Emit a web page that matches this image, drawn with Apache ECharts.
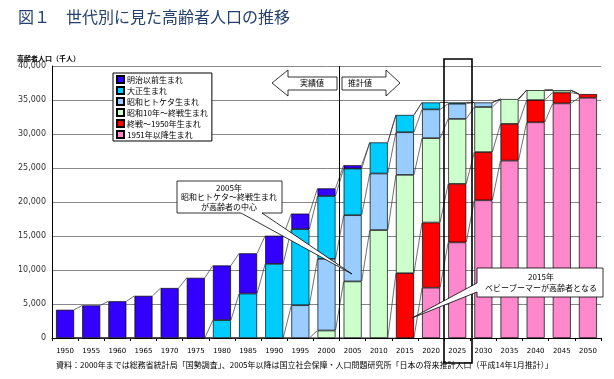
<!DOCTYPE html>
<html><head><meta charset="utf-8">
<script src="https://cdn.jsdelivr.net/npm/echarts@6/dist/echarts.min.js"></script>
<style>html,body{margin:0;padding:0;background:#fff}#c{width:614px;height:379px}</style>
</head><body><div id="c"></div>
<script>
var years = ['1950','1955','1960','1965','1970','1975','1980','1985','1990','1995','2000','2005','2010','2015','2020','2025','2030','2035','2040','2045','2050'];
var names = ['明治以前生まれ','大正生まれ','昭和ヒトケタ生まれ','昭和10年～終戦生まれ','終戦～1950年生まれ','1951年以降生まれ'];
var meiji    = [4150,4790,5400,6200,7350,8850,8030,5920,4140,2280,1120,480,0,0,0,0,0,0,0,0,0];
var taisho   = [0,0,0,0,0,0,2630,6530,10900,11190,9240,6860,4570,2540,1020,190,0,0,0,0,0];
var hitoketa = [0,0,0,0,0,0,0,0,0,4820,10540,9740,8320,6270,4230,2230,670,0,0,0,0];
var showa10  = [0,0,0,0,0,0,0,0,0,0,1100,8320,15870,14460,12410,9550,6630,3650,1460,350,0];
var sengo    = [0,0,0,0,0,0,0,0,0,0,0,0,0,9530,9580,8610,7090,5400,3270,1600,540];
var after51  = [0,0,0,0,0,0,0,0,0,0,0,0,0,0,7400,14060,20250,26090,31720,34500,35330];
var yTicks = [0,5000,10000,15000,20000,25000,30000,35000,40000];

var colors = ['#3300ff','#00ccff','#99ccff','#ccffcc','#ff0000','#ff88cc'];
var valuesByLegend = [meiji,taisho,hitoketa,showa10,sengo,after51];
var FONT = '"Noto Sans CJK JP", "Noto Sans", sans-serif';
var BW = 18;

// stacking order bottom -> top: youngest first
var stackOrder = [5,4,3,2,1,0];
var cum = [];
var run = years.map(function(){return 0;});
stackOrder.forEach(function(k){
  run = run.map(function(v,i){return v + valuesByLegend[k][i];});
  cum.push(run.slice());
});

var series = stackOrder.map(function(k){
  return {
    name: names[k], type:'bar', stack:'total', barWidth: BW,
    itemStyle:{color:colors[k], borderColor:'#000', borderWidth:0.7},
    data: valuesByLegend[k].map(function(v){return v ? v : null;}),
    z: 3
  };
});
series.push({
  type:'custom', z:1, silent:true,
  data: years.slice(0, years.length-1).map(function(y,i){return [i, 0];}),
  encode:{x:0,y:1},
  renderItem: function(params, api){
    var i = api.value(0);
    var ch = [];
    for (var k=0;k<cum.length;k++){
      var p1 = api.coord([i, cum[k][i]]);
      var p2 = api.coord([i+1, cum[k][i+1]]);
      ch.push({type:'line', shape:{x1:p1[0]+BW/2, y1:p1[1], x2:p2[0]-BW/2, y2:p2[1]},
        style:{stroke:'#333', lineWidth:0.7}});
    }
    return {type:'group', children: ch};
  }
});

var chart = echarts.init(document.getElementById('c'), null, {renderer:'canvas'});
chart.setOption({
  animation:false,
  backgroundColor:'#fff',
  textStyle:{fontFamily:FONT},
  grid:{left:52, right:13, top:66, bottom:41, containLabel:false},
  legend:{
    data:names, orient:'vertical', left:113, top:73,
    backgroundColor:'#fff', borderColor:'#000', borderWidth:1,
    padding:[2,4,2,3], itemGap:2, itemWidth:7, itemHeight:7,
    textStyle:{fontSize:8, color:'#000', fontFamily:FONT, padding:[0,0,0,-2]},
    icon:'rect', selectedMode:false
  },
  xAxis:{
    type:'category', data:years,
    axisLine:{lineStyle:{color:'#000', width:1}},
    axisTick:{show:true, length:3, lineStyle:{color:'#000'}},
    axisLabel:{fontSize:7, color:'#000', margin:10, fontFamily:'"DejaVu Sans", sans-serif'}
  },
  yAxis:{
    type:'value', min:yTicks[0], max:yTicks[yTicks.length-1], interval:5000,
    axisLine:{show:true, lineStyle:{color:'#000', width:1}},
    axisTick:{show:false},
    splitLine:{lineStyle:{color:'#888', width:1}},
    axisLabel:{fontSize:8, color:'#333', margin:6, fontFamily:'"DejaVu Sans", sans-serif',
      formatter:function(v){return v.toLocaleString('en-US');}}
  },
  series: series,
  graphic:[
    {type:'text', left:18, top:9, z:100, style:{text:'図１　世代別に見た高齢者人口の推移', font:'16px '+FONT, fill:'#23406e'}},
    {type:'text', left:17, top:55, z:100, style:{text:'高齢者人口（千人）', font:'bold 7px '+FONT, fill:'#000'}},
    {type:'text', left:56, top:361, z:100, style:{text:'資料：2000年までは総務省統計局「国勢調査」、2005年以降は国立社会保障・人口問題研究所「日本の将来推計人口（平成14年1月推計）」', font:'8px '+FONT, fill:'#000'}},
    // divider between actual and projected
    {type:'line', z:100, shape:{x1:339.5, y1:66, x2:339.5, y2:338}, style:{stroke:'#000', lineWidth:1}},
    // arrows
    {type:'polygon', z:100, shape:{points:[[272,83],[288,70],[288,77],[337,77],[337,90],[288,90],[288,96]]}, style:{fill:'#fff', stroke:'#000', lineWidth:0.8}},
    {type:'text', z:101, x:312, y:83, style:{text:'実績値', font:'8px '+FONT, fill:'#000', textAlign:'center', textVerticalAlign:'middle'}},
    {type:'polygon', z:100, shape:{points:[[342,77],[386,77],[386,70],[400,83],[386,96],[386,90],[342,90]]}, style:{fill:'#fff', stroke:'#000', lineWidth:0.8}},
    {type:'text', z:101, x:360, y:83, style:{text:'推計値', font:'8px '+FONT, fill:'#000', textAlign:'center', textVerticalAlign:'middle'}},
    // 2025 highlight
    {type:'rect', z:100, shape:{x:444, y:59, width:28, height:304}, style:{fill:'none', stroke:'#000', lineWidth:1.6}},
    // callout 1
    {type:'polygon', z:100, shape:{points:[[177,181],[282,181],[282,213],[262,213],[352,274],[241,213],[177,213]]}, style:{fill:'#fff', stroke:'#000', lineWidth:0.8}},
    {type:'text', z:101, x:229, y:197, style:{text:'2005年\n昭和ヒトケタ～終戦生まれ\nが高齢者の中心', font:'8px '+FONT, lineHeight:9.5, fill:'#000', textAlign:'center', textVerticalAlign:'middle'}},
    // callout 2
    {type:'polygon', z:100, shape:{points:[[477,268],[603,268],[603,297],[477,297],[477,292],[412,318],[477,283]]}, style:{fill:'#fff', stroke:'#000', lineWidth:0.8}},
    {type:'text', z:101, x:541, y:282, style:{text:'2015年\nベビーブーマーが高齢者となる', font:'8px '+FONT, lineHeight:11, fill:'#000', textAlign:'center', textVerticalAlign:'middle'}}
  ]
});
</script></body></html>
